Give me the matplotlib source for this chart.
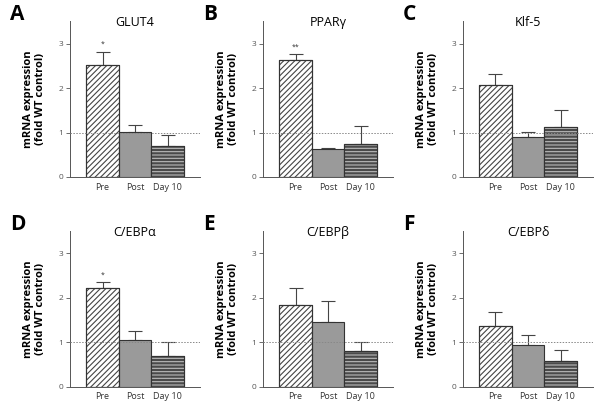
import numpy as np
import matplotlib
matplotlib.use("Agg")
import matplotlib.pyplot as plt

plt.rcParams['font.family'] = ['Open Sans', 'DejaVu Sans']
plt.rcParams['hatch.linewidth'] = 0.8

# data
groups = ["Pre", "Post", "Day 10"]
genes = ["GLUT4", "PPAR\u03b3", "Klf-5", "C/EBP\u03b1", "C/EBP\u03b2", "C/EBP\u03b4"]
letters = ["A", "B", "C", "D", "E", "F"]
means = [
    [2.52, 1.02, 0.69],
    [2.63, 0.62, 0.74],
    [2.08, 0.89, 1.12],
    [2.21, 1.05, 0.70],
    [1.83, 1.45, 0.80],
    [1.37, 0.93, 0.58],
]
errs = [
    [0.30, 0.14, 0.25],
    [0.13, 0.04, 0.40],
    [0.23, 0.12, 0.38],
    [0.14, 0.21, 0.31],
    [0.38, 0.47, 0.20],
    [0.32, 0.23, 0.25],
]
stars = ["*", "**", "", "*", "", ""]

fig = plt.figure(figsize=(6, 4.04), dpi=100)

lefts = [70, 263, 463]
bottoms = [177, 386.7]
W, H = 600, 404

fills = ["white", "#9a9a9a", "#4a4a4a"]
hatches = ["//////", None, "-----"]
hcolors = ["#444444", "#666666", "#bbbbbb"]

for i in range(6):
    r, c = divmod(i, 3)
    ax = fig.add_axes([lefts[c] / W, (H - bottoms[r]) / H, 130 / W, 155.6 / H])
    x = np.arange(3)
    for j in range(3):
        ax.bar(x[j], means[i][j], width=1.0, color=fills[j], edgecolor="#333333",
               linewidth=0.8, zorder=2)
        if hatches[j]:
            ax.bar(x[j], means[i][j], width=1.0, color="none", edgecolor=hcolors[j],
                   hatch=hatches[j], linewidth=0, zorder=3)
            ax.bar(x[j], means[i][j], width=1.0, color="none", edgecolor="#333333",
                   linewidth=0.8, zorder=4)
        ax.errorbar(x[j], means[i][j], yerr=[[0], [errs[i][j]]], fmt="none",
                    ecolor="#444444", elinewidth=0.8, capsize=5, capthick=0.8, zorder=1)
    if stars[i]:
        ax.text(0, means[i][0] + errs[i][0] + 0.08, stars[i], ha="center",
                va="bottom", fontsize=5, color="#333333")
    ax.axhline(1, color="#888888", linestyle=(0, (1.5, 1.5)), linewidth=0.7, zorder=5)
    ax.set_xlim(-1, 3)
    ax.set_ylim(0, 3.5)
    ax.set_yticks([0, 1, 2, 3])
    ax.set_xticks(x)
    ax.set_xticklabels(groups, fontsize=6.5, color="#333333")
    ax.tick_params(axis="x", length=0, pad=4)
    ax.tick_params(axis="y", labelsize=6, labelcolor="#555555", length=3,
                   width=0.6, color="#555555", pad=2)
    for s in ["top", "right"]:
        ax.spines[s].set_visible(False)
    for s in ["left", "bottom"]:
        ax.spines[s].set_linewidth(0.7)
        ax.spines[s].set_color("#555555")
    ax.set_title(genes[i], fontsize=9, pad=2, y=0.95)
    ax.set_ylabel("mRNA expression\n(fold WT control)", fontsize=8,
                  fontweight="bold", labelpad=9, linespacing=1.15)
    fig.text((lefts[c] - 60) / W, 1 - (bottoms[r] - 162) / H, letters[i],
             fontsize=15, fontweight="bold", ha="left", va="center")

fig.savefig("out.png", dpi=100)
